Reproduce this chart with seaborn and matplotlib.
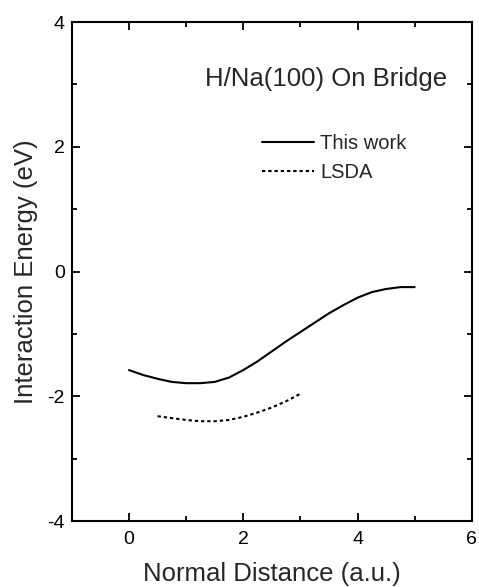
import matplotlib
matplotlib.use("Agg")
import matplotlib.pyplot as plt
from matplotlib.ticker import MultipleLocator
import seaborn as sns
import pandas as pd

# Data
this_work_x = [0.0, 0.25, 0.5, 0.75, 1.0, 1.25, 1.5, 1.75, 2.0, 2.25, 2.5, 2.75, 3.0, 3.25, 3.5, 3.75, 4.0, 4.25, 4.5, 4.75, 5.0]
this_work_y = [-1.58, -1.66, -1.72, -1.77, -1.79, -1.79, -1.77, -1.70, -1.58, -1.44, -1.28, -1.12, -0.97, -0.82, -0.67, -0.54, -0.42, -0.33, -0.28, -0.25, -0.25]
lsda_x = [0.5, 0.75, 1.0, 1.25, 1.5, 1.75, 2.0, 2.25, 2.5, 2.75, 3.0]
lsda_y = [-2.32, -2.35, -2.38, -2.40, -2.40, -2.38, -2.33, -2.26, -2.18, -2.08, -1.96]
series_names = ["This work", "LSDA"]
annotation = "H/Na(100) On Bridge"
x_label = "Normal Distance (a.u.)"
y_label = "Interaction Energy (eV)"

df = pd.concat([
    pd.DataFrame({"x": this_work_x, "y": this_work_y, "series": series_names[0]}),
    pd.DataFrame({"x": lsda_x, "y": lsda_y, "series": series_names[1]}),
])

sns.set_theme(style="ticks")
plt.rcParams["font.family"] = ["Liberation Sans", "DejaVu Sans"]
plt.rcParams["axes.unicode_minus"] = False

fig = plt.figure(figsize=(4.79, 5.87), dpi=100)
ax = fig.add_axes([0.150, 0.1124, 0.835, 0.8501])

sns.lineplot(data=df, x="x", y="y", hue="series", style="series",
             palette={series_names[0]: "black", series_names[1]: "black"},
             dashes={series_names[0]: "", series_names[1]: (1.6, 1.4)},
             linewidth=1.5, ax=ax, legend=True, sort=False)

ax.set_xlim(-1, 6)
ax.set_ylim(-4, 4)
ax.xaxis.set_major_locator(MultipleLocator(2))
ax.xaxis.set_minor_locator(MultipleLocator(1))
ax.yaxis.set_major_locator(MultipleLocator(2))
ax.yaxis.set_minor_locator(MultipleLocator(1))
ax.tick_params(which="both", direction="in", top=True, right=True, width=1.3, colors="black",
               labelsize=14)
ax.tick_params(which="major", length=6)
ax.tick_params(which="minor", length=3.5)
ax.tick_params(axis="x", which="major", pad=7)
ax.tick_params(axis="y", which="major", pad=5)
for s in ax.spines.values():
    s.set_linewidth(1.5)
    s.set_color("black")

ax.set_xlabel(x_label, fontsize=18.5, labelpad=10)
ax.set_ylabel(y_label, fontsize=18.5, labelpad=7)

ax.text(0.9375, 0.886, annotation, transform=ax.transAxes, ha="right", va="center", fontsize=18.5)

leg = ax.legend(loc="upper left", bbox_to_anchor=(0.475, 0.775), frameon=False,
                fontsize=14.5, handlelength=2.6, handletextpad=0.3, labelspacing=0.5,
                borderaxespad=0, borderpad=0, title=None)

fig.savefig("out.png", dpi=100)
